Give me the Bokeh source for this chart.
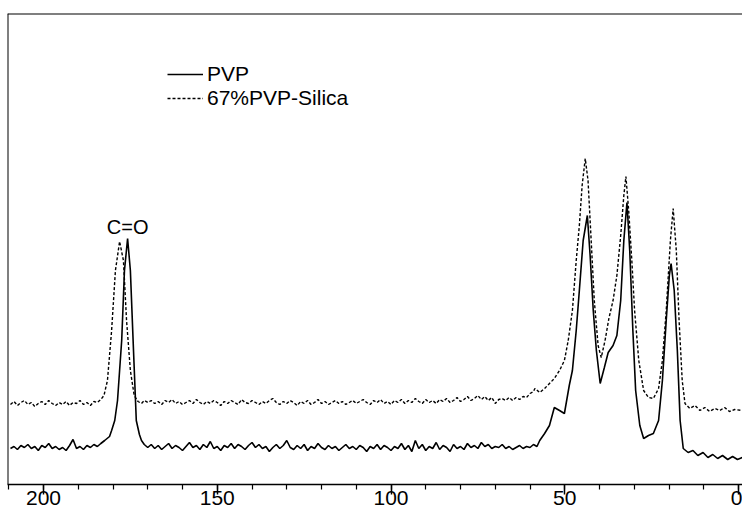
from bokeh.plotting import figure
from bokeh.models import Range1d, FixedTicker, Span, Legend, LegendItem
from bokeh.core.properties import value
from bokeh.embed import file_html
from bokeh.resources import INLINE

# ---- data (13C chemical shift in ppm, intensity in arbitrary units) ----
pvp_ppm = [209.5, 208.5, 207.5, 206.5, 205.5, 204.5, 203.5, 202.5, 201.5, 200.5,
           199.5, 198.5, 197.5, 196.5, 195.5, 194.5, 193.5, 192.5, 191.5, 190.5,
           189.5, 188.5, 187.5, 186.5, 185.5, 184.5, 183.5, 182.4,
           181.0, 180.4, 179.5, 178.7, 178.1, 177.5, 176.7, 175.8, 175.0, 174.1,
           173.3, 172.4, 171.8, 171.0,
           170, 169, 168, 167, 166, 165, 164, 163, 162, 161, 160, 159, 158, 157,
           156, 155, 154, 153, 152, 151, 150, 149, 148, 147, 146, 145, 144, 143,
           142, 141, 140, 139, 138, 137, 136, 135, 134, 133, 132, 131, 130, 129,
           128, 127, 126, 125, 124, 123, 122, 121, 120, 119, 118, 117, 116, 115,
           114, 113, 112, 111, 110, 109, 108, 107, 106, 105, 104, 103, 102, 101,
           100, 99, 98, 97, 96, 95, 94, 93, 92, 91, 90, 89, 88, 87, 86, 85, 84,
           83, 82, 81, 80, 79, 78, 77, 76, 75, 74, 73, 72, 71, 70, 69, 68, 67,
           66, 65, 64, 63, 62, 61, 60, 59, 58,
           57.2, 55.8, 54.4, 53.0, 51.5, 50.1, 48.7, 47.8, 46.7, 45.8, 44.7, 43.5,
           42.7, 41.8, 40.9, 39.8, 38.6, 37.5, 36.1, 35.0, 33.9, 33.0, 32.1, 31.3,
           30.4, 29.6, 28.4, 27.3, 25.9, 24.5, 23.0, 21.9, 20.8, 19.9, 19.4, 18.5,
           17.6, 16.8, 15.9, 14.5, 13.1, 11.7, 10.2, 8.8, 7.4, 6.0, 4.6, 3.1, 1.7,
           0.3, -1.1]
pvp_int = [44, 46, 43, 47, 45, 48, 44, 46, 42, 47,
           45, 49, 44, 46, 43, 45, 42, 47, 53, 44,
           46, 43, 47, 45, 48, 46, 49, 52,
           56, 62, 72, 92, 122, 152, 222, 254, 222, 142,
           72, 58, 52, 48,
           45, 48, 44, 47, 43, 46, 49, 44, 47, 45, 42, 46, 50, 45,
           47, 43, 48, 45, 51, 44, 46, 42, 47, 45, 49, 44, 48, 46,
           43, 47, 50, 45, 48, 44, 46, 41, 45, 48, 44, 47, 52, 45,
           43, 47, 44, 48, 42, 46, 44, 49, 45, 43, 47, 44, 46, 42,
           45, 48, 44, 46, 43, 47, 45, 41, 46, 44, 48, 43, 47, 45,
           42, 46, 44, 49, 43, 47, 41, 52, 44, 48, 42, 46, 44, 50, 43, 47, 45,
           41, 48, 44, 46, 43, 49, 45, 47, 44, 50, 46, 48, 44, 46, 45, 48, 44,
           46, 43, 45, 47, 44, 46, 45, 48, 46,
           52, 59, 67, 85, 82, 79, 107, 122, 162, 202, 252, 277,
           237, 182, 142, 109, 125, 140, 147, 157, 192, 252, 290, 242,
           162, 102, 67, 54, 57, 59, 72, 112, 172, 217, 229, 202,
           142, 72, 44, 40, 42, 37, 40, 35, 38, 34, 37, 33, 36,
           33, 35]

sil_ppm = [209.5, 208.5, 207.5, 206.5, 205.5, 204.5, 203.5, 202.5, 201.5, 200.5,
           199.5, 198.5, 197.5, 196.5, 195.5, 194.5, 193.5, 192.5, 191.5, 190.5,
           189.5, 188.5, 187.5, 186.5, 185.5, 184.5, 183.5, 182.6,
           181.6, 180.4, 179.3, 178.1, 177.0, 176.1, 175.0, 173.9, 172.8, 171.8,
           171.0,
           170, 169, 168, 167, 166, 165, 164, 163, 162, 161, 160, 159, 158, 157,
           156, 155, 154, 153, 152, 151, 150, 149, 148, 147, 146, 145, 144, 143,
           142, 141, 140, 139, 138, 137, 136, 135, 134, 133, 132, 131, 130, 129,
           128, 127, 126, 125, 124, 123, 122, 121, 120, 119, 118, 117, 116, 115,
           114, 113, 112, 111, 110, 109, 108, 107, 106, 105, 104, 103, 102, 101,
           100, 99, 98, 97, 96, 95, 94, 93, 92, 91, 90, 89, 88, 87, 86, 85, 84,
           83, 82, 81, 80, 79, 78, 77, 76, 75, 74, 73, 72, 71, 70, 69, 68, 67,
           66, 65, 64, 63, 62, 61, 60, 59,
           58.6, 57.2, 55.8, 54.4, 53.0, 51.5, 50.1, 49.0, 47.8, 46.7, 45.8, 45.0,
           44.1, 43.3, 42.4, 41.5, 40.4, 39.5, 38.4, 37.3, 36.1, 35.0, 33.9, 33.0,
           32.4, 31.6, 30.7, 29.9, 28.7, 27.3, 25.9, 24.5, 23.0, 21.9, 20.8, 19.6,
           18.8, 17.9, 17.1, 16.2, 15.4, 14.0, 12.5, 11.1, 9.7, 8.3, 6.8, 5.4,
           4.0, 2.6, 1.1, -1.1]
sil_int = [88, 91, 87, 90, 92, 88, 90, 86, 89, 91,
           88, 92, 89, 87, 90, 88, 91, 87, 90, 89,
           92, 88, 90, 87, 91, 90, 93, 97,
           112, 162, 222, 251, 232, 172, 122, 97, 91, 89,
           92,
           90, 92, 89, 91, 88, 92, 90, 93, 89, 91, 88, 90, 92, 89,
           93, 90, 88, 91, 89, 92, 90, 87, 91, 89, 92, 90, 88, 93,
           90, 89, 92, 90, 88, 91, 89, 92, 94, 90, 88, 91, 89, 92,
           90, 87, 91, 89, 92, 88, 90, 93, 89, 91, 88, 90, 92, 89,
           91, 88, 90, 92, 89, 91, 93, 90, 88, 92, 90, 93, 89, 91,
           88, 92, 90, 93, 89, 92, 90, 94, 91, 89, 93, 90, 92, 89, 93, 91, 94,
           90, 92, 95, 91, 93, 96, 92, 94, 97, 93, 96, 92, 95, 89, 93, 94, 92,
           95, 92, 95, 93, 96, 95, 99, 101,
           104, 100, 104, 109, 114, 122, 132, 152, 182, 232, 267, 307,
           334, 312, 252, 192, 147, 135, 152, 174, 192, 217, 257, 297,
           316, 282, 232, 182, 132, 102, 95, 94, 104, 132, 182, 252,
           284, 242, 172, 112, 89, 84, 87, 82, 85, 81, 84, 82,
           85, 81, 83, 82]

x_major = [0, 50, 100, 150, 200]
x_minor = list(range(0, 211, 10))
series_names = ["PVP", "67%PVP-Silica"]
co_label = "C=O"
co_ppm = 175.8

FONT = "Liberation Sans"
X_START, X_END = 210.36, -1.15
Y_START, Y_END = 8, 479

p = figure(width=742, height=514, output_backend="svg", toolbar_location=None,
           x_range=Range1d(X_START, X_END), y_range=Range1d(Y_START, Y_END),
           min_border_left=7, min_border_right=0, min_border_top=13,
           min_border_bottom=30)
p.outline_line_color = None
p.grid.visible = False
p.yaxis.visible = False
p.background_fill_color = "white"
p.border_fill_color = "white"

ax = p.xaxis[0]
ax.ticker = FixedTicker(ticks=x_major, minor_ticks=x_minor)
ax.major_tick_in = 0
ax.major_tick_out = 10
ax.minor_tick_in = 0
ax.minor_tick_out = 5
ax.axis_line_width = 1.5
ax.major_tick_line_width = 1.5
ax.minor_tick_line_width = 1.2
ax.axis_line_color = "black"
ax.major_label_text_font = FONT
ax.major_label_text_font_size = "21px"
ax.major_label_text_color = "black"
ax.major_label_standoff = -4

# frame lines on left and top
p.add_layout(Span(location=X_START, dimension="height", line_color="black", line_width=2))
p.add_layout(Span(location=Y_END, dimension="width", line_color="black", line_width=2))

r1 = p.line(pvp_ppm, pvp_int, line_color="black", line_width=1.6)
r2 = p.line(sil_ppm, sil_int, line_color="black", line_width=1.4, line_dash="3 2")

p.text(x=[co_ppm], y=[266], text=[co_label], text_align="center",
       text_baseline="alphabetic", text_font=value(FONT), text_font_size="20px",
       text_color="black")

legend = Legend(items=[LegendItem(label=series_names[0], renderers=[r1]),
                       LegendItem(label=series_names[1], renderers=[r2])],
                location=(160, 374), orientation="vertical",
                glyph_width=36, glyph_height=18, label_height=18, spacing=-6,
                label_standoff=4, padding=0, margin=0,
                border_line_color=None, background_fill_alpha=0,
                label_text_font=FONT, label_text_font_size="21px",
                label_text_color="black")
p.add_layout(legend)

open("out.html", "w").write(file_html(p, INLINE))
